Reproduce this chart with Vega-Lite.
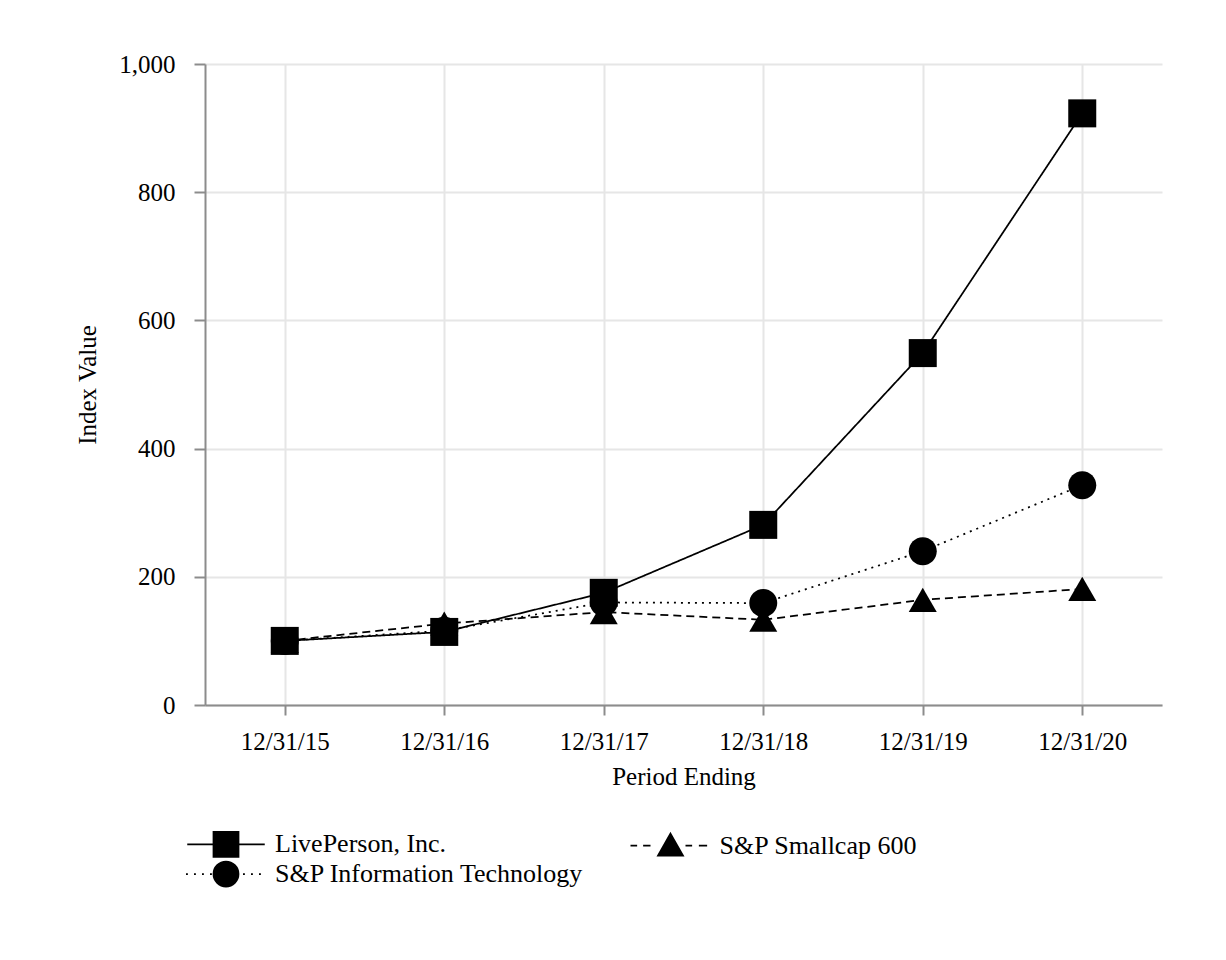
{
  "$schema": "https://vega.github.io/schema/vega-lite/v6.json",
  "width": 957,
  "height": 641,
  "autosize": "none",
  "padding": {"left": 205, "top": 64, "right": 64, "bottom": 255},
  "background": "white",
  "config": {
    "font": "Liberation Serif",
    "view": {"stroke": null},
    "axis": {
      "labelFont": "Liberation Serif", "labelFontSize": 25, "labelColor": "black",
      "titleFont": "Liberation Serif", "titleFontSize": 25, "titleFontWeight": "normal", "titleColor": "black",
      "domainColor": "#8c8c8c", "domainWidth": 2, "tickColor": "#8c8c8c", "tickWidth": 2,
      "gridColor": "#e6e6e6", "gridWidth": 2
    },
    "legend": {"labelFont": "Liberation Serif", "labelFontSize": 26, "labelColor": "black"}
  },
  "data": {
    "values": [
      {"period": "12/31/15", "series": "LivePerson, Inc.", "value": 100},
      {"period": "12/31/16", "series": "LivePerson, Inc.", "value": 114},
      {"period": "12/31/17", "series": "LivePerson, Inc.", "value": 175},
      {"period": "12/31/18", "series": "LivePerson, Inc.", "value": 281},
      {"period": "12/31/19", "series": "LivePerson, Inc.", "value": 549},
      {"period": "12/31/20", "series": "LivePerson, Inc.", "value": 923},
      {"period": "12/31/15", "series": "S&P Information Technology", "value": 100},
      {"period": "12/31/16", "series": "S&P Information Technology", "value": 116},
      {"period": "12/31/17", "series": "S&P Information Technology", "value": 160},
      {"period": "12/31/18", "series": "S&P Information Technology", "value": 159},
      {"period": "12/31/19", "series": "S&P Information Technology", "value": 240},
      {"period": "12/31/20", "series": "S&P Information Technology", "value": 343},
      {"period": "12/31/15", "series": "S&P Smallcap 600", "value": 100},
      {"period": "12/31/16", "series": "S&P Smallcap 600", "value": 127},
      {"period": "12/31/17", "series": "S&P Smallcap 600", "value": 145},
      {"period": "12/31/18", "series": "S&P Smallcap 600", "value": 133},
      {"period": "12/31/19", "series": "S&P Smallcap 600", "value": 164},
      {"period": "12/31/20", "series": "S&P Smallcap 600", "value": 181}
    ]
  },
  "encoding": {
    "x": {
      "field": "period", "type": "ordinal",
      "sort": ["12/31/15", "12/31/16", "12/31/17", "12/31/18", "12/31/19", "12/31/20"],
      "scale": {"type": "point", "padding": 0.5},
      "axis": {"labelAngle": 0, "title": "Period Ending", "tickSize": 10, "labelPadding": 14, "titlePadding": 10, "grid": true}
    },
    "y": {
      "field": "value", "type": "quantitative",
      "scale": {"domain": [0, 1000], "nice": false},
      "axis": {"values": [0, 200, 400, 600, 800, 1000], "format": ",d", "tickSize": 11, "labelPadding": 19, "title": "Index Value", "titlePadding": 18, "grid": true}
    }
  },
  "layer": [
    {
      "mark": {"type": "line", "color": "black", "strokeWidth": 1.75},
      "encoding": {
        "strokeDash": {
          "field": "series", "type": "nominal",
          "scale": {"domain": ["LivePerson, Inc.", "S&P Smallcap 600", "S&P Information Technology"], "range": [[1, 0], [8, 5], [2, 5]]},
          "legend": null
        }
      }
    },
    {
      "mark": {"type": "point", "filled": true, "color": "black", "opacity": 1, "size": 784},
      "encoding": {
        "shape": {
          "field": "series", "type": "nominal",
          "scale": {"domain": ["LivePerson, Inc.", "S&P Smallcap 600", "S&P Information Technology"], "range": ["square", "triangle-up", "M-1,0A1,1,0,1,0,1,0A1,1,0,1,0,-1,0Z"]},
          "legend": null
        }
      }
    },
    {
      "mark": {"type": "point", "filled": false, "fill": "black", "stroke": "black", "strokeWidth": 1.75, "opacity": 0},
      "encoding": {
        "shape": {
          "field": "series", "type": "nominal",
          "scale": {
            "domain": ["LivePerson, Inc.", "S&P Smallcap 600", "S&P Information Technology"],
            "range": [
              "M-3.1,0H3.1M-1,-1H1V1H-1Z",
              "M-3.2,0H-2.67M-2.19,0H-1.6M1.2,0H1.73M2.27,0H2.93M0,-0.95L1,0.8L-1,0.8Z",
              "M-3.2,0H-3.05M-2.56,0H-2.41M-1.92,0H-1.77M-1.28,0H-1.13M1.36,0H1.51M2,0H2.15M2.64,0H2.79M-1,0A1,1,0,1,0,1,0A1,1,0,1,0,-1,0Z"
            ]
          },
          "legend": {
            "title": null, "orient": "none", "legendX": 7.5, "legendY": 766.5,
            "direction": "horizontal", "columns": 2, "padding": 0,
            "symbolSize": 625, "symbolOpacity": 1, "symbolStrokeWidth": 1.75,
            "labelOffset": 35.5, "columnPadding": 42.5, "rowPadding": -3, "labelFontSize": 26, "labelLimit": 0
          }
        }
      }
    }
  ],
  "resolve": {"scale": {"shape": "independent"}, "legend": {"shape": "independent"}}
}
